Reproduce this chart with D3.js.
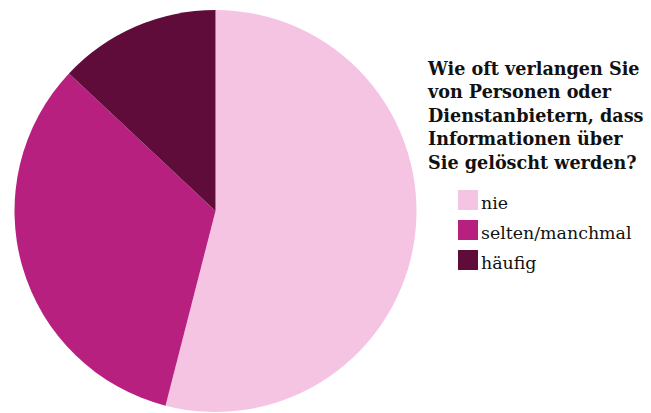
<!DOCTYPE html>
<html>
<head>
<meta charset="utf-8">
<script src="https://cdn.jsdelivr.net/npm/d3@7/dist/d3.min.js"></script>
<style>
  html, body { margin: 0; padding: 0; background: #ffffff; }
  svg { display: block; }
  text { font-family: "DejaVu Serif", "Liberation Serif", serif; fill: #111; }
</style>
</head>
<body>
<svg id="chart" width="651" height="413"></svg>
<script>
// Survey answers (share of respondents, %)
const categories = ["nie", "selten/manchmal", "häufig"];
const shares = [54, 33, 13];
const colors = ["#f5c4e3", "#b82080", "#5f0c3b"];
const titleLines = [
  "Wie oft verlangen Sie",
  "von Personen oder",
  "Dienstanbietern, dass",
  "Informationen über",
  "Sie gelöscht werden?"
];

const svg = d3.select("#chart");
const cx = 215.5, cy = 211, radius = 201;

const pie = d3.pie().sort(null).value(d => d.value);
const arc = d3.arc().innerRadius(0).outerRadius(radius);
const color = d3.scaleOrdinal().domain(categories).range(colors);

const data = categories.map((c, i) => ({ name: c, value: shares[i] }));

svg.append("g")
  .attr("transform", `translate(${cx},${cy})`)
  .selectAll("path")
  .data(pie(data))
  .join("path")
  .attr("d", arc)
  .attr("fill", d => color(d.data.name));

// Title
const title = svg.append("text")
  .attr("x", 428)
  .attr("y", 75)
  .style("font-weight", "bold")
  .style("font-size", "17.6px");
title.selectAll("tspan")
  .data(titleLines)
  .join("tspan")
  .attr("x", 428)
  .attr("dy", (d, i) => i === 0 ? 0 : 23.4)
  .text(d => d);

// Legend
const legend = svg.append("g").attr("transform", "translate(458,190)");
const item = legend.selectAll("g")
  .data(categories)
  .join("g")
  .attr("transform", (d, i) => `translate(0,${i * 30})`);
item.append("rect")
  .attr("width", 20)
  .attr("height", 20)
  .attr("fill", d => color(d));
item.append("text")
  .attr("x", 23)
  .attr("y", 19)
  .style("font-size", "17.4px")
  .text(d => d);
</script>
</body>
</html>
